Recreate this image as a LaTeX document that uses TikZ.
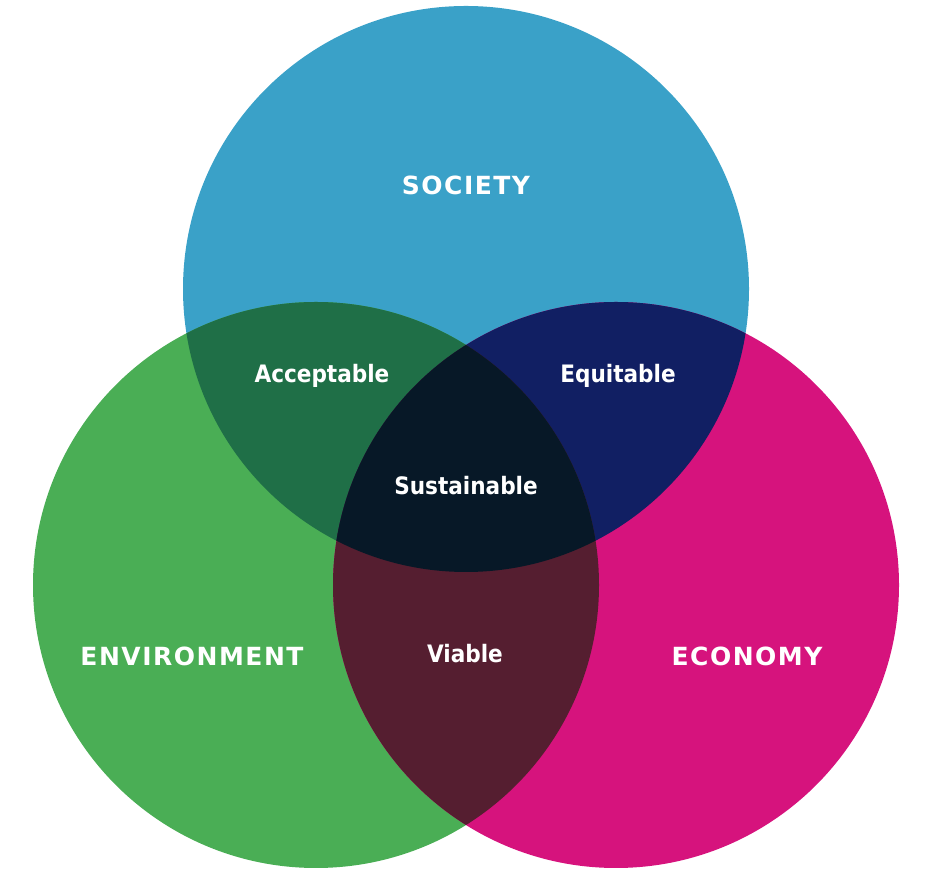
\documentclass[tikz,border=0pt]{standalone}
\usepackage{fontspec}
\setmainfont{DejaVu Sans}
\newfontfamily\capsfont[LetterSpace=6]{DejaVu Sans}
\newfontfamily\condfont{DejaVu Sans Condensed}
\definecolor{soc}{HTML}{3AA1C8}
\definecolor{env}{HTML}{4AAE55}
\definecolor{eco}{HTML}{D6137D}
\definecolor{se}{HTML}{1F6F47}
\definecolor{sc}{HTML}{111F63}
\definecolor{ec}{HTML}{551E30}
\definecolor{all}{HTML}{071827}
\tikzset{
  lbl/.style={text=white,font=\condfont\fontsize{24}{28}\selectfont\bfseries,inner sep=0pt},
  biglbl/.style={text=white,font=\capsfont\fontsize{25}{28}\selectfont\bfseries,inner sep=0pt}}
\begin{document}
\begin{tikzpicture}[x=1pt,y=1pt]
\useasboundingbox (0,0) rectangle (931,877);
\def\R{283}
\coordinate (S) at (466,588);
\coordinate (N) at (316,292);
\coordinate (C) at (616,292);
\fill[soc] (S) circle (\R);
\fill[env] (N) circle (\R);
\fill[eco] (C) circle (\R);
\begin{scope}
\clip (S) circle (\R);
\fill[se] (N) circle (\R);
\fill[sc] (C) circle (\R);
\end{scope}
\begin{scope}
\clip (N) circle (\R);
\fill[ec] (C) circle (\R);
\end{scope}
\begin{scope}
\clip (S) circle (\R);
\clip (N) circle (\R);
\fill[all] (C) circle (\R);
\end{scope}
\node[biglbl] (tsoc) at (466,692) {SOCIETY};
\node[lbl] (tacc) at (322,501) {Acceptable};
\node[lbl] (tequ) at (618,501) {Equitable};
\node[lbl] (tsus) at (466,391) {Sustainable};
\node[biglbl] (tenv) at (192,221) {ENVIRONMENT};
\node[lbl] (tvia) at (465,223) {Viable};
\node[biglbl] (teco) at (747,221) {ECONOMY};
\end{tikzpicture}
\end{document}
